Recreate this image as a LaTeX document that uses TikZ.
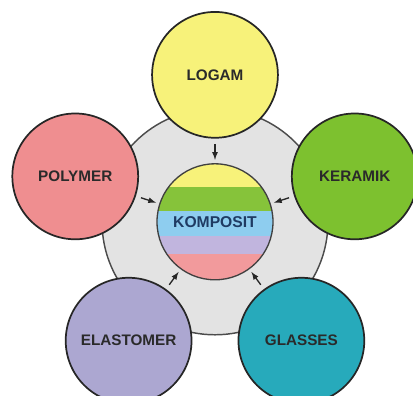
\documentclass[tikz,border=0pt]{standalone}
\usepackage{fontspec}
\setmainfont{Liberation Sans}
\usetikzlibrary{arrows}

\definecolor{ringgray}{HTML}{E3E3E3}
\definecolor{cyellow}{HTML}{F7F27A}
\definecolor{cgreen}{HTML}{7DC12F}
\definecolor{cpink}{HTML}{EF8E90}
\definecolor{clav}{HTML}{ACA7D1}
\definecolor{cteal}{HTML}{27AABB}
\definecolor{sgreen}{HTML}{86C33A}
\definecolor{sblue}{HTML}{8ECDEF}
\definecolor{slav}{HTML}{C1B5DE}
\definecolor{spink}{HTML}{F29A9C}
\definecolor{textdark}{HTML}{2A2A2A}
\definecolor{textblue}{HTML}{1F3B63}

\begin{document}
\begin{tikzpicture}[line/.style={>=latex},
  material/.style={circle, draw=black!85, line width=1.3pt, minimum size=3.33cm,
    inner sep=0pt, font=\fontsize{11.5}{13}\selectfont\bfseries, text=textdark}]
\useasboundingbox (-5.69, -4.60) rectangle (5.24, 5.87);

\coordinate (O) at (0, 0);

% grey ring behind everything
\draw[fill=ringgray, draw=black!70, line width=1.1pt] (O) circle (2.99);

% striped centre
\begin{scope}
\clip (O) circle (1.535);
\fill[cyellow] (-2, 0.926) rectangle (2, 1.6);
\fill[sgreen] (-2, 0.291) rectangle (2, 0.926);
\fill[sblue] (-2, -0.370) rectangle (2, 0.291);
\fill[slav] (-2, -0.847) rectangle (2, -0.370);
\fill[spink] (-2, -1.6) rectangle (2, -0.847);
\end{scope}
\node[circle, draw=black!75, line width=1pt, minimum size=3.07cm, inner sep=0pt,
  font=\fontsize{11.8}{13}\selectfont\bfseries, text=textblue] (komposit) at (O) {KOMPOSIT};

% the five materials
\node[material, fill=cyellow] (logam) at (90:3.889) {LOGAM};
\node[material, fill=cpink] (polymer) at (162:3.889) {POLYMER};
\node[material, fill=cgreen] (keramik) at (18:3.889) {KERAMIK};
\node[material, fill=clav] (elastomer) at (234:3.889) {ELASTOMER};
\node[material, fill=cteal] (glasses) at (306:3.889) {GLASSES};

\foreach \m in {logam, polymer, keramik, elastomer, glasses}
  \draw[->, line, line width=1pt, black!85, shorten <=4pt, shorten >=2.5pt] (\m) -- (komposit);

\end{tikzpicture}
\end{document}
